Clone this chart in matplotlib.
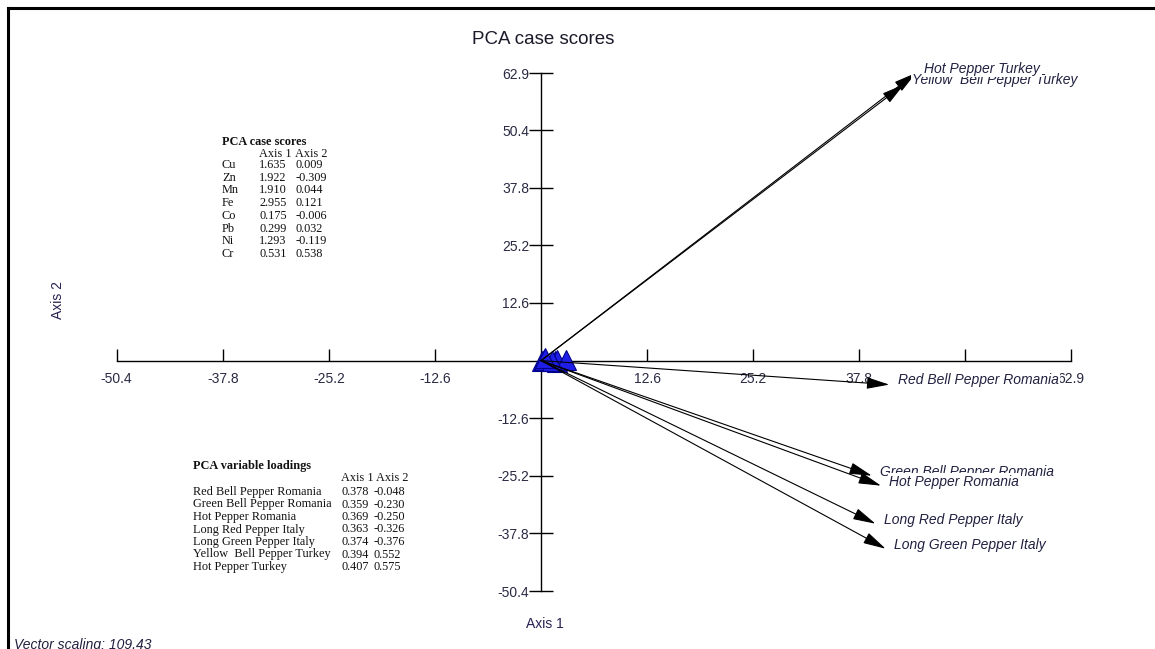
import matplotlib
matplotlib.use("Agg")
import matplotlib.pyplot as plt
from matplotlib.lines import Line2D

# case scores (triangles) and variable loadings (arrows)
elements = ['Cu', 'Zn', 'Mn', 'Fe', 'Co', 'Pb', 'Ni', 'Cr']
case_ax1 = [1.635, 1.922, 1.910, 2.955, 0.175, 0.299, 1.293, 0.531]
case_ax2 = [0.009, -0.309, 0.044, 0.121, -0.006, 0.032, -0.119, 0.538]

samples = ['Red Bell Pepper Romania', 'Green Bell Pepper Romania', 'Hot Pepper Romania',
           'Long Red Pepper Italy', 'Long Green Pepper Italy', 'Yellow  Bell Pepper Turkey',
           'Hot Pepper Turkey']
load_ax1 = [0.378, 0.359, 0.369, 0.363, 0.374, 0.394, 0.407]
load_ax2 = [-0.048, -0.230, -0.250, -0.326, -0.376, 0.552, 0.575]
vector_scaling = 109.43

ticks = [-50.4, -37.8, -25.2, -12.6, 0.0, 12.6, 25.2, 37.8, 50.4, 62.9]

W, H = 1155, 649
fig = plt.figure(figsize=(W / 100, H / 100), dpi=100)
ax = fig.add_axes([0, 0, 1, 1])

# pixel mapping of the original plot
px_x, x0 = 8.42, 541.0
px_y, y0 = 4.572, 360.6
ax.set_xlim(-x0 / px_x, (W - x0) / px_x)
ax.set_ylim(-(H - y0) / px_y, y0 / px_y)

for s in ['top', 'right']:
    ax.spines[s].set_visible(False)
ax.spines['left'].set_position(('data', 0))
ax.spines['bottom'].set_position(('data', 0))
ax.spines['left'].set_bounds(ticks[0], ticks[-1])
ax.spines['bottom'].set_bounds(ticks[0], ticks[-1])
ax.spines['left'].set_linewidth(1.0)
ax.spines['bottom'].set_linewidth(1.0)

tick_col = '#2a2a44'
xt = [t for t in ticks if t != 0]
ax.set_xticks(xt)
ax.set_yticks(xt)
ax.set_xticklabels(['%.1f' % t for t in xt])
ax.set_yticklabels(['%.1f' % t for t in xt])
ax.tick_params(axis='x', direction='in', length=8.6, width=1.0, pad=8.5,
               labelsize=10, labelcolor=tick_col)
ax.tick_params(axis='y', direction='inout', length=17, width=1.0, pad=0,
               labelsize=10, labelcolor=tick_col)
for lab in ax.get_xticklabels() + ax.get_yticklabels():
    lab.set_family('Liberation Sans')

# case scores
ax.plot(case_ax1, case_ax2, '^', ms=14, color='#1e1ee6', mec='#00008a', mew=0.8, zorder=3)

# loading vectors
for name, a1, a2 in zip(samples, load_ax1, load_ax2):
    tip = (a1 * vector_scaling, a2 * vector_scaling)
    ax.annotate('', xy=tip, xytext=(0, 0),
                arrowprops=dict(arrowstyle='-|>,head_length=1.4,head_width=0.36',
                                mutation_scale=10, color='black', lw=0.8,
                                shrinkA=0, shrinkB=0), zorder=4)
for name, a1, a2 in zip(samples, load_ax1, load_ax2):
    tip = (a1 * vector_scaling, a2 * vector_scaling)
    ax.annotate(name, xy=tip, xytext=(6, 3), textcoords='offset points',
                ha='left', va='center', fontsize=10, style='italic',
                family='Liberation Sans', color='#202040',
                bbox=dict(boxstyle='square,pad=0.12', fc='white', ec='none'), zorder=5)

fig.text(543 / W, 1 - 39 / H, 'PCA case scores', ha='center', va='center',
         fontsize=13.5, family='Liberation Sans', color='#1a1a2a')
fig.text(545 / W, 1 - 624 / H, 'Axis 1', ha='center', va='center',
         fontsize=10, family='Liberation Sans', color='#2a2050')
fig.text(58 / W, 1 - 300 / H, 'Axis 2', ha='center', va='center', rotation=90,
         fontsize=10, family='Liberation Sans', color='#2a2050')
fig.text(14 / W, 1 - 638 / H, 'Vector scaling: 109.43', ha='left', va='top',
         fontsize=10, style='italic', family='Liberation Sans', color='#202040')

# tables
serif = dict(family='Liberation Serif', fontsize=8.8, va='center', ha='left', color='#111111')
fig.text(222 / W, 1 - 142 / H, 'PCA case scores', fontweight='bold', **serif)
fig.text(259 / W, 1 - 154 / H, 'Axis 1', **serif)
fig.text(295 / W, 1 - 154 / H, 'Axis 2', **serif)
for i, (e, a1, a2) in enumerate(zip(elements, case_ax1, case_ax2)):
    y = 1 - (165 + 12.7 * i) / H
    fig.text(222 / W, y, e, **serif)
    fig.text(259 / W, y, '%.3f' % a1, **serif)
    fig.text(296 / W, y, '%.3f' % a2, **serif)

fig.text(193 / W, 1 - 466 / H, 'PCA variable loadings', fontweight='bold', **serif)
fig.text(341 / W, 1 - 478 / H, 'Axis 1', **serif)
fig.text(376 / W, 1 - 478 / H, 'Axis 2', **serif)
for i, (s, a1, a2) in enumerate(zip(samples, load_ax1, load_ax2)):
    y = 1 - (492 + 12.5 * i) / H
    fig.text(193 / W, y, s, **serif)
    fig.text(341 / W, y, '%.3f' % a1, **serif)
    fig.text(374 / W, y, '%.3f' % a2, **serif)

# outer frame (left and top edges)
fig.add_artist(Line2D([8 / W, 8 / W], [0, 1 - 8 / H], color='black', lw=2.2,
                      transform=fig.transFigure))
fig.add_artist(Line2D([8 / W, 1], [1 - 8 / H, 1 - 8 / H], color='black', lw=2.2,
                      transform=fig.transFigure))

fig.savefig('out.png', dpi=100)
